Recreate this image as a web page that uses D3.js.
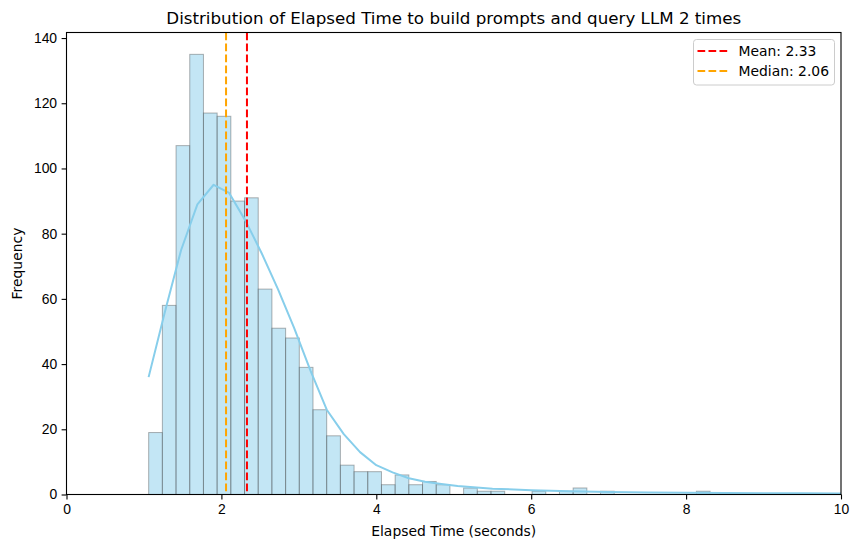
<!DOCTYPE html>
<html>
<head>
<meta charset="utf-8">
<script src="https://cdn.jsdelivr.net/npm/d3@7"></script>
<style>
  body { margin: 0; background: #fff; }
  svg { font-family: "DejaVu Sans", sans-serif; }
</style>
</head>
<body>
<div id="chart"></div>
<script>
// Histogram bins (seconds)
const binStart = 1.061;
const binWidth = 0.1768;
const binCounts = [19, 58, 107, 135, 117, 116, 90, 91, 63, 51, 48, 39, 26, 18, 9, 7, 7, 3, 6, 3,
                   4, 3, 0, 2, 1, 1, 0, 0, 1, 0, 1, 2, 0, 1, 0, 0, 0, 0, 0, 0, 1];

// KDE curve (scaled to counts)
const kdeX = [1.06, 1.27, 1.48, 1.69, 1.90, 2.10, 2.31, 2.52, 2.73, 2.94, 3.15, 3.36, 3.58, 3.79,
              4.00, 4.21, 4.42, 4.63, 4.84, 5.05, 5.5, 6.0, 6.5, 7.0, 7.5, 8.0, 8.5, 9.0, 9.5, 10.0];
const kdeY = [36, 56, 75, 89, 95, 92.5, 84, 74, 63, 51, 38, 26, 18.5, 13,
              9, 6.8, 5, 3.9, 3.2, 2.6, 1.8, 1.3, 1.0, 0.8, 0.65, 0.55, 0.45, 0.4, 0.35, 0.3];

const meanValue = 2.33;
const medianValue = 2.06;

const xTicks = [0, 2, 4, 6, 8, 10];
const yTicks = [0, 20, 40, 60, 80, 100, 120, 140];

const W = 859, H = 547;
const margin = { top: 32.5, right: 18, bottom: 52.5, left: 66.5 };
const width = W - margin.left - margin.right;
const height = H - margin.top - margin.bottom;

const svg = d3.select("#chart")
    .append("svg")
    .attr("width", W)
    .attr("height", H);

const g = svg.append("g")
    .attr("transform", `translate(${margin.left}, ${margin.top})`);

const x = d3.scaleLinear().domain([0, 10]).range([0, width]);
const y = d3.scaleLinear().domain([0, 141.7]).range([height, 0]);

const bins = binCounts.map((c, i) => ({
    x0: binStart + i * binWidth,
    x1: binStart + (i + 1) * binWidth,
    count: c
})).filter(d => d.count > 0);

// bars
g.selectAll("rect.bar")
    .data(bins)
    .enter()
    .append("rect")
    .attr("class", "bar")
    .attr("x", d => x(d.x0))
    .attr("y", d => y(d.count))
    .attr("width", d => x(d.x1) - x(d.x0))
    .attr("height", d => y(0) - y(d.count))
    .attr("fill", "skyblue")
    .attr("fill-opacity", 0.5)
    .attr("stroke", "#404040")
    .attr("stroke-opacity", 0.4)
    .attr("stroke-width", 1);

// kde
const line = d3.line()
    .x((d, i) => x(kdeX[i]))
    .y(d => y(d));

g.append("path")
    .datum(kdeY)
    .attr("fill", "none")
    .attr("stroke", "skyblue")
    .attr("stroke-width", 2)
    .attr("stroke-linejoin", "round")
    .attr("d", line);

// mean / median lines
const refLines = [
    { value: meanValue, color: "red", label: `Mean: ${meanValue}` },
    { value: medianValue, color: "orange", label: `Median: ${medianValue}` }
];

g.selectAll("line.ref")
    .data(refLines)
    .enter()
    .append("line")
    .attr("class", "ref")
    .attr("x1", d => x(d.value))
    .attr("x2", d => x(d.value))
    .attr("y1", 0)
    .attr("y2", height)
    .attr("stroke", d => d.color)
    .attr("stroke-width", 2)
    .attr("stroke-dasharray", "7.7,3.3");

// axes
const xAxis = g.append("g")
    .attr("transform", `translate(0, ${height})`)
    .call(d3.axisBottom(x).tickValues(xTicks).tickSize(4.9).tickPadding(4.5).tickFormat(d3.format("d")));

const yAxis = g.append("g")
    .call(d3.axisLeft(y).tickValues(yTicks).tickSize(4.9).tickPadding(4.5).tickFormat(d3.format("d")));

[xAxis, yAxis].forEach(a => {
    a.select(".domain").remove();
    a.selectAll("line").attr("stroke", "#000").attr("stroke-width", 1.1);
    a.selectAll("text").attr("fill", "#000").style("font-size", "13.9px");
});

// spines
g.append("rect")
    .attr("x", 0)
    .attr("y", 0)
    .attr("width", width)
    .attr("height", height)
    .attr("fill", "none")
    .attr("stroke", "#000")
    .attr("stroke-width", 1.1);

// title
svg.append("text")
    .attr("x", margin.left + width / 2)
    .attr("y", 24)
    .attr("text-anchor", "middle")
    .style("font-size", "16.7px")
    .text("Distribution of Elapsed Time to build prompts and query LLM 2 times");

// axis labels
svg.append("text")
    .attr("x", margin.left + width / 2)
    .attr("y", 535.5)
    .attr("text-anchor", "middle")
    .style("font-size", "13.9px")
    .text("Elapsed Time (seconds)");

svg.append("text")
    .attr("transform", `translate(22, ${margin.top + height / 2}) rotate(-90)`)
    .attr("text-anchor", "middle")
    .style("font-size", "13.9px")
    .text("Frequency");

// legend
const legend = svg.append("g").attr("transform", "translate(693.5, 39.5)");
legend.append("rect")
    .attr("width", 141)
    .attr("height", 45.5)
    .attr("rx", 3)
    .attr("fill", "#fff")
    .attr("fill-opacity", 0.8)
    .attr("stroke", "#cccccc")
    .attr("stroke-width", 1);

const items = legend.selectAll("g.item")
    .data(refLines)
    .enter()
    .append("g")
    .attr("class", "item")
    .attr("transform", (d, i) => `translate(0, ${11.5 + i * 20})`);

items.append("line")
    .attr("x1", 4)
    .attr("x2", 34)
    .attr("stroke", d => d.color)
    .attr("stroke-width", 2)
    .attr("stroke-dasharray", "7.7,3.3");

items.append("text")
    .attr("x", 45)
    .attr("y", 5)
    .style("font-size", "13.9px")
    .text(d => d.label);
</script>
</body>
</html>
